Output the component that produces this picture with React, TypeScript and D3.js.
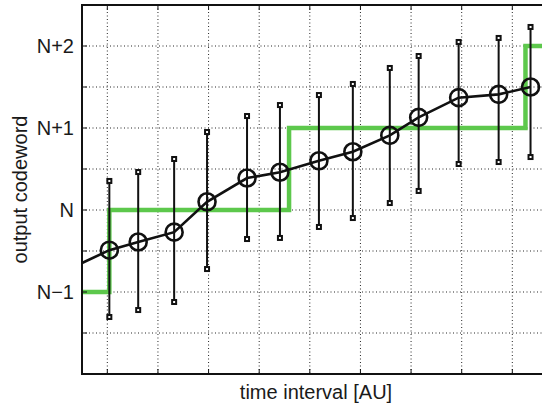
import React from "react";
import * as d3 from "d3";

// Measured time positions (AU) and the averaged output codeword relative to N
const timePoints = [1.04, 1.61, 2.32, 2.97, 3.76, 4.41, 5.18, 5.85, 6.58, 7.15, 7.94, 8.73, 9.36];
const meanCode = [-0.49, -0.39, -0.27, 0.1, 0.39, 0.46, 0.6, 0.71, 0.91, 1.13, 1.37, 1.41, 1.5];
const upperCode = [0.354, 0.463, 0.622, 0.951, 1.146, 1.28, 1.402, 1.537, 1.732, 1.878, 2.049, 2.098, 2.232];
const lowerCode = [-1.305, -1.22, -1.122, -0.72, -0.354, -0.341, -0.207, -0.098, 0.085, 0.232, 0.561, 0.585, 0.646];

// Leading segment of the trend line before the first measurement
const leadTime = 0.5;
const leadCode = -0.646;

// Ideal quantizer output (staircase)
const stairTimes = [0.5, 1.04, 1.04, 4.59, 4.59, 9.26, 9.26, 10.5];
const stairCodes = [-1, -1, 0, 0, 1, 1, 2, 2];

const xTicks = [1, 2, 3, 4, 5, 6, 7, 8, 9, 10];
const yTicks = [-2, -1.5, -1, -0.5, 0, 0.5, 1, 1.5, 2];
const yTickLabels: Record<string, string> = { "-1": "N\u22121", "0": "N", "1": "N+1", "2": "N+2" };

const W = 542;
const H = 408;
const left = 82;
const top = 5;
const bottom = 374;

export default function App() {
  const x = d3.scaleLinear().domain([0.5, 10.5]).range([left, left + 10 * 50.625]);
  const y = d3.scaleLinear().domain([-2, 2.5]).range([bottom, top]);
  const right = x(10.5);

  const stairLine = d3
    .line<number>()
    .x((_, i) => x(stairTimes[i]))
    .y((d) => y(d))(stairCodes);

  const trendT = [leadTime, ...timePoints];
  const trendV = [leadCode, ...meanCode];
  const trendLine = d3
    .line<number>()
    .x((_, i) => x(trendT[i]))
    .y((d) => y(d))(trendV);

  const font = "'Liberation Sans', Arial, Helvetica, sans-serif";

  return (
    <svg
      width={W}
      height={H}
      style={{ position: "absolute", left: 0, top: 0, background: "#fff" }}
    >
      <defs>
        <clipPath id="plotClip">
          <rect x={left} y={top} width={right - left} height={bottom - top} />
        </clipPath>
      </defs>

      {/* dotted grid */}
      <g stroke="#000" strokeWidth={1} strokeDasharray="1,2.5" opacity={0.85}>
        {xTicks.map((t) => (
          <line key={"gx" + t} x1={x(t)} x2={x(t)} y1={top} y2={bottom} />
        ))}
        {yTicks.map((t) => (
          <line key={"gy" + t} x1={left} x2={right} y1={y(t)} y2={y(t)} />
        ))}
      </g>

      <g clipPath="url(#plotClip)">
        {/* staircase */}
        <path d={stairLine ?? ""} fill="none" stroke="#5dc84c" strokeWidth={4.5} strokeLinejoin="miter" />

        {/* error bars */}
        {timePoints.map((t, i) => (
          <g key={"eb" + i}>
            <line
              x1={x(t)}
              x2={x(t)}
              y1={y(lowerCode[i])}
              y2={y(upperCode[i])}
              stroke="#111"
              strokeWidth={2}
            />
            <rect x={x(t) - 2} y={y(upperCode[i]) - 2} width={4} height={4} fill="#fff" stroke="#111" strokeWidth={2} />
            <rect x={x(t) - 2} y={y(lowerCode[i]) - 2} width={4} height={4} fill="#fff" stroke="#111" strokeWidth={2} />
          </g>
        ))}

        {/* trend line with circle markers */}
        <path d={trendLine ?? ""} fill="none" stroke="#111" strokeWidth={2.6} />
        {timePoints.map((t, i) => (
          <circle key={"c" + i} cx={x(t)} cy={y(meanCode[i])} r={8.5} fill="none" stroke="#111" strokeWidth={2.6} />
        ))}
      </g>

      {/* axes box */}
      <g stroke="#111" strokeWidth={2} fill="none">
        <line x1={left} x2={right} y1={top} y2={top} />
        <line x1={left} x2={right} y1={bottom} y2={bottom} />
        <line x1={left} x2={left} y1={top - 1} y2={bottom + 1} />
      </g>

      {/* tick marks */}
      <g stroke="#111" strokeWidth={1}>
        {xTicks.map((t) => (
          <g key={"tx" + t}>
            <line x1={x(t)} x2={x(t)} y1={bottom} y2={bottom - 5} />
            <line x1={x(t)} x2={x(t)} y1={top} y2={top + 5} />
          </g>
        ))}
        {yTicks.map((t) => (
          <line key={"ty" + t} x1={left} x2={left + 5} y1={y(t)} y2={y(t)} />
        ))}
      </g>

      {/* y tick labels */}
      <g fontFamily={font} fontSize={20} fill="#1a1a1a" textAnchor="end">
        {yTicks
          .filter((t) => yTickLabels[String(t)] !== undefined)
          .map((t) => (
            <text key={"yl" + t} x={left - 8} y={y(t)} dy="0.36em">
              {yTickLabels[String(t)]}
            </text>
          ))}
      </g>

      {/* axis titles */}
      <text x={316} y={399} fontFamily={font} fontSize={20} fill="#1a1a1a" textAnchor="middle">
        time interval [AU]
      </text>
      <text
        transform={`translate(27, ${(top + bottom) / 2}) rotate(-90)`}
        fontFamily={font}
        fontSize={20}
        fill="#1a1a1a"
        textAnchor="middle"
      >
        output codeword
      </text>
    </svg>
  );
}
